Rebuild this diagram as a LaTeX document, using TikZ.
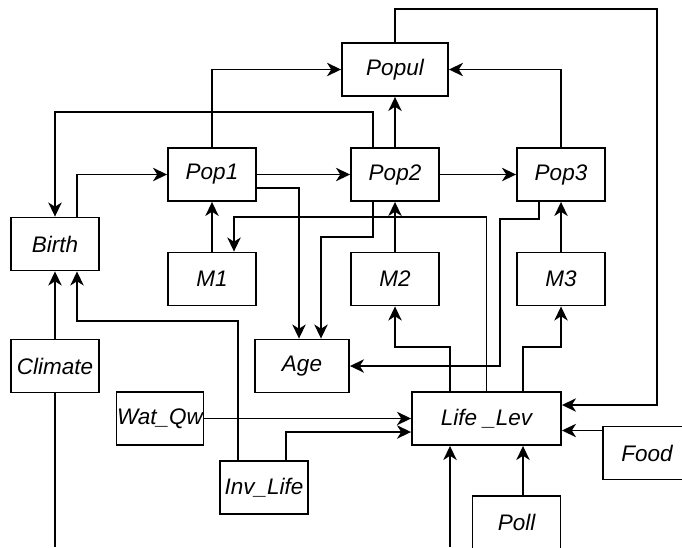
\documentclass[tikz,border=0pt]{standalone}
\usepackage{fontspec}
\setmainfont{Liberation Sans}
\usetikzlibrary{arrows.meta,calc}

\begin{document}
\begin{tikzpicture}[x=0.025cm,y=-0.025cm,
  blk/.style={draw, line width=1.3pt, inner sep=0pt, minimum width=2.2cm, minimum height=1.325cm,
    font=\fontsize{16}{18}\selectfont\itshape},
  arr/.style={line width=1.3pt, -{Stealth[length=10pt,width=9.5pt,inset=3pt]}},
  ln/.style={line width=1.3pt}]

% Cornice
\path[use as bounding box, clip] (0,0) rectangle (682,547);

% Blocchi
\node[blk, minimum width=2.65cm] (popul) at (395,69.5) {Popul};
\node[blk] (pop1) at (212,174.5) {Pop1};
\node[blk] (pop2) at (395,174.5) {Pop2};
\node[blk] (pop3) at (561,174.5) {Pop3};
\node[blk] (birth) at (55,244) {Birth};
\node[blk] (m1) at (212,279) {M1};
\node[blk] (m2) at (395,279) {M2};
\node[blk] (m3) at (561,279) {M3};
\node[blk] (climate) at (55,366) {Climate};
\node[blk, minimum width=2.35cm] (age) at (302,366) {Age};
\node[blk, minimum width=2.175cm] (watqw) at (160,418.5) {Wat\_Qw};
\node[blk] (invlife) at (264,487.5) {Inv\_Life};
\node[blk, minimum width=3.725cm] (lifelev) at (486.5,418.5) {Life \_Lev};
\node[blk] (food) at (647,453) {Food};
\node[blk] (poll) at (516.5,522.5) {Poll};

% Punti liberi
\coordinate (topR) at (657,9);
\coordinate (botA) at (55,547);
\coordinate (botB) at (450,547);

% Popolazioni
\draw[arr] (pop1.north) |- (popul.west);
\draw[arr] (pop2) -- (popul);
\draw[arr] (pop3.north) |- (popul.east);
\draw[arr] (pop1) -- (pop2);
\draw[arr] (pop2) -- (pop3);
\draw[arr] ($(pop2.north)+(-22,0)$) -- ++(0,-35) -| (birth.north);
\draw[arr] ($(birth.north)+(22,0)$) |- (pop1.west);
\draw[arr] (popul.north) |- (topR) |- ($(lifelev.east)+(0,-13.5)$);

% Mortalita
\draw[arr] (m1) -- (pop1);
\draw[arr] (m2) -- (pop2);
\draw[arr] (m3) -- (pop3);

% Eta
\draw[arr] ($(pop1.east)+(0,13.5)$) -| ($(age.north)+(-3,0)$);
\draw[arr] ($(pop2.south)+(-22,0)$) -- ++(0,35) -| ($(age.north)+(19,0)$);
\draw[arr] ($(pop3.south)+(-22,0)$) -- ++(0,17) -| ($(age.east)+(150,0)$) -- (age.east);

% Life_Lev
\draw[arr] (lifelev.north) -- ++(0,-174) -| ($(m1.north)+(22,0)$);
\draw[arr] ($(lifelev.north)+(-36.5,0)$) -- ++(0,-44) -| (m2.south);
\draw[arr] ($(lifelev.north)+(36.5,0)$) -- ++(0,-44) -| (m3.south);

% Nascite
\draw[arr] (climate) -- (birth);
\draw[ln] (climate.south) -- (botA);
\draw[arr] ($(invlife.north)+(-26,0)$) -- ++(0,-139) -| ($(birth.south)+(22,0)$);

% Ingressi di Life_Lev
\draw[arr] (watqw.east) -- (watqw.east -| lifelev.west);
\draw[arr] ($(invlife.north)+(22,0)$) |- ($(lifelev.west)+(0,13.5)$);
\coordinate (foodIn) at ($(lifelev.east)+(0,12)$);
\draw[arr] (foodIn -| food.west) -- (foodIn);
\coordinate (pollIn) at ($(lifelev.south)+(36.5,0)$);
\draw[arr] (pollIn |- poll.north) -- (pollIn);
\draw[arr] (botB) -- (botB |- lifelev.south);
\end{tikzpicture}
\end{document}
